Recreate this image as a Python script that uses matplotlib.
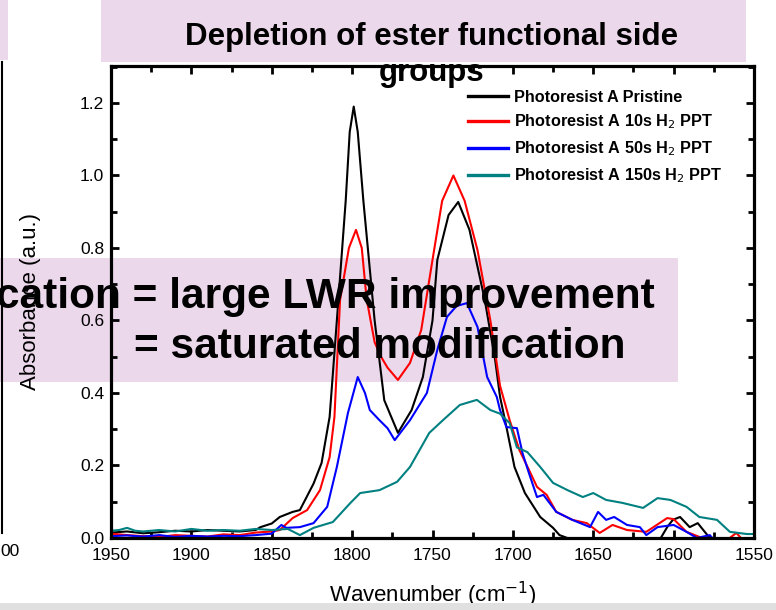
import matplotlib
matplotlib.use("Agg")
import matplotlib.pyplot as plt
from matplotlib.patches import Rectangle
from matplotlib.lines import Line2D
from matplotlib.ticker import MultipleLocator

plt.rcParams['font.family'] = ['Liberation Sans', 'DejaVu Sans']

# Photoresist A Pristine
wn_pristine = [1950, 1940, 1930, 1920, 1910, 1900, 1890, 1880, 1870, 1860, 1857, 1850, 1845, 1837,
               1832.5, 1824, 1819, 1814, 1809.5, 1804, 1801.5, 1799, 1796.5, 1793, 1786, 1780, 1771.5,
               1763, 1756, 1750, 1747, 1740, 1734, 1727, 1717.5, 1711, 1708, 1704, 1699, 1692.5, 1683,
               1675, 1671, 1660, 1640, 1620, 1608, 1604, 1600.5, 1596, 1590, 1585, 1579, 1575, 1560, 1550]
abs_pristine = [0.015, 0.018, 0.013, 0.016, 0.020, 0.018, 0.022, 0.020, 0.018, 0.022, 0.030, 0.040, 0.058, 0.072,
                0.077, 0.150, 0.207, 0.334, 0.600, 0.930, 1.120, 1.190, 1.120, 0.930, 0.600, 0.380, 0.290,
                0.353, 0.444, 0.600, 0.767, 0.891, 0.927, 0.850, 0.657, 0.490, 0.390, 0.306, 0.196, 0.124, 0.058,
                0.028, 0.008, -0.010, -0.010, -0.010, 0.000, 0.030, 0.050, 0.058, 0.030, 0.041, 0.008, -0.010, -0.010, -0.010]

# Photoresist A 10s H2 PPT
wn_10s = [1950, 1940, 1930, 1920, 1910, 1900, 1890, 1880, 1870, 1860, 1850, 1845, 1837, 1828, 1820, 1814,
          1811, 1807.5, 1802, 1797.6, 1794, 1791, 1786, 1782, 1778, 1771.5, 1764, 1757, 1750, 1744, 1737,
          1730, 1722, 1714, 1708, 1702, 1696, 1690, 1685, 1679, 1673, 1663, 1654, 1646, 1638, 1629, 1617,
          1604, 1600, 1592, 1584, 1575, 1568, 1561, 1556, 1550]
abs_10s = [0.012, 0.008, 0.005, 0.003, 0.008, 0.006, 0.004, 0.010, 0.008, 0.015, 0.018, 0.022, 0.055, 0.077, 0.132, 0.223,
           0.334, 0.657, 0.800, 0.850, 0.800, 0.660, 0.540, 0.500, 0.470, 0.436, 0.483, 0.574, 0.767, 0.930, 1.000,
           0.930, 0.794, 0.600, 0.420, 0.325, 0.243, 0.188, 0.141, 0.119, 0.072, 0.050, 0.041, 0.014, 0.036, 0.022, 0.017,
           0.055, 0.052, 0.017, 0.003, -0.005, -0.010, 0.014, -0.010, -0.010]

# Photoresist A 50s H2 PPT
wn_50s = [1950, 1940, 1930, 1920, 1910, 1900, 1890, 1880, 1870, 1860, 1850, 1844, 1841, 1832.5, 1824, 1815.5,
          1809.5, 1802.6, 1796.5, 1792, 1789, 1783, 1778, 1773.5, 1764, 1753.5, 1747, 1741, 1735, 1728.6, 1722,
          1716, 1710, 1708, 1704, 1697.5, 1694, 1690, 1685, 1681, 1673, 1663, 1652, 1647, 1642, 1637, 1629,
          1621, 1617, 1610, 1600, 1592, 1585.5, 1577.5, 1574, 1565, 1550]
abs_50s = [0.005, 0.007, 0.004, 0.008, 0.003, 0.006, 0.004, 0.006, 0.005, 0.008, 0.012, 0.036, 0.028, 0.030, 0.041, 0.086,
           0.196, 0.345, 0.444, 0.400, 0.353, 0.325, 0.303, 0.270, 0.325, 0.400, 0.519, 0.610, 0.640, 0.648, 0.582,
           0.444, 0.389, 0.353, 0.306, 0.303, 0.234, 0.179, 0.113, 0.119, 0.072, 0.050, 0.030, 0.072, 0.050, 0.058, 0.036,
           0.030, 0.008, 0.030, 0.036, 0.017, 0.000, 0.008, -0.010, -0.010, -0.010]

# Photoresist A 150s H2 PPT
wn_150s = [1950, 1945, 1940, 1935, 1930, 1920, 1910, 1900, 1890, 1880, 1870, 1860, 1850, 1840, 1832.5, 1824,
           1812, 1801, 1795, 1783, 1772, 1764, 1752, 1743.5, 1733, 1722.4, 1714, 1708, 1702, 1697.5, 1691, 1683,
           1675, 1666, 1656.5, 1650, 1642, 1632, 1619, 1610, 1602, 1592, 1584, 1573, 1565, 1554.5, 1550]
abs_150s = [0.020, 0.022, 0.028, 0.020, 0.018, 0.022, 0.018, 0.025, 0.020, 0.022, 0.020, 0.025, 0.022, 0.025, 0.008, 0.028,
            0.044, 0.097, 0.124, 0.132, 0.155, 0.196, 0.290, 0.325, 0.367, 0.381, 0.353, 0.343, 0.317, 0.250, 0.237, 0.196,
            0.152, 0.132, 0.113, 0.124, 0.105, 0.097, 0.083, 0.110, 0.105, 0.086, 0.058, 0.050, 0.017, 0.011, 0.011]

series = [
    (wn_pristine, abs_pristine, 'black', 'Photoresist A Pristine'),
    (wn_10s, abs_10s, '#ff0000', 'Photoresist A 10s H$_2$ PPT'),
    (wn_50s, abs_50s, '#0000ff', 'Photoresist A 50s H$_2$ PPT'),
    (wn_150s, abs_150s, '#008080', 'Photoresist A 150s H$_2$ PPT'),
]

W, H = 776, 610
fig = plt.figure(figsize=(W / 100, H / 100), dpi=100)
ax = fig.add_axes([111 / W, 1 - 538 / H, (754 - 111) / W, (538 - 66) / H])
ax.patch.set_visible(False)  # so the slide pattern box shows under the curves

for x, y, c, lab in series:
    ax.plot(x, y, color=c, lw=1.5, label=lab)

ax.set_xlim(1950, 1550)
ax.set_ylim(0, 1.302)
ax.xaxis.set_major_locator(MultipleLocator(50))
ax.xaxis.set_minor_locator(MultipleLocator(25))
ax.yaxis.set_major_locator(MultipleLocator(0.2))
ax.yaxis.set_minor_locator(MultipleLocator(0.1))
ax.yaxis.set_major_formatter(plt.FuncFormatter(lambda v, p: f"{v:.1f}"))
ax.tick_params(which='both', direction='in', top=True, right=True, width=2, labelsize=12.5)
ax.tick_params(axis='x', pad=7)
ax.tick_params(axis='y', pad=5)
ax.tick_params(which='major', length=6)
ax.tick_params(which='minor', length=4)
for s in ax.spines.values():
    s.set_linewidth(2.3)

ax.set_xlabel('Wavenumber (cm$^{-1}$)', fontsize=16, labelpad=12)
ax.set_ylabel('Absorbance (a.u.)', fontsize=16, labelpad=28)

leg = ax.legend(loc='upper left', bbox_to_anchor=(0.555, 0.95), frameon=False,
                prop={'size': 11.7, 'weight': 'bold'},
                handlelength=2.5, handletextpad=0.35, labelspacing=0.5, borderpad=0, borderaxespad=0)
for h in leg.get_lines():
    h.set_linewidth(2.4)

# slide overlays
pat = '#c890c8'
fig.patches.append(Rectangle((101 / W, 1 - 62 / H), (746 - 101) / W, 62 / H, transform=fig.transFigure,
                             facecolor=pat, alpha=0.35, lw=0, zorder=-1))
fig.patches.append(Rectangle((0, 1 - 60 / H), 8 / W, 60 / H, transform=fig.transFigure,
                             facecolor=pat, alpha=0.35, lw=0, zorder=-1))
fig.patches.append(Rectangle((0, 1 - 382 / H), 678 / W, (382 - 258) / H, transform=fig.transFigure,
                             facecolor=pat, alpha=0.35, lw=0, zorder=-1))
fig.patches.append(Rectangle((0, 0), 1, 7 / H, transform=fig.transFigure,
                             facecolor='#e0e0e0', lw=0, zorder=5))
fig.lines.append(Line2D([1.5 / W, 1.5 / W], [1 - 62 / H, 1 - 533 / H], transform=fig.transFigure,
                        color='black', lw=1.5, zorder=6))

fig.text(432 / W, 1 - 37 / H, 'Depletion of ester functional side', ha='center', va='center',
         fontsize=22.5, fontweight='bold', zorder=7)
fig.text(432 / W, 1 - 73 / H, 'groups', ha='center', va='center',
         fontsize=22.5, fontweight='bold', zorder=7)
fig.text(655 / W, 1 - 297 / H, 'cation = large LWR improvement', ha='right', va='center',
         fontsize=30.5, fontweight='bold', zorder=7)
fig.text(625 / W, 1 - 347 / H, '= saturated modification', ha='right', va='center',
         fontsize=30.5, fontweight='bold', zorder=7)
fig.text(0, 1 - 552 / H, '00', ha='left', va='center', fontsize=12.5, zorder=7)

fig.savefig('out.png', dpi=100)
